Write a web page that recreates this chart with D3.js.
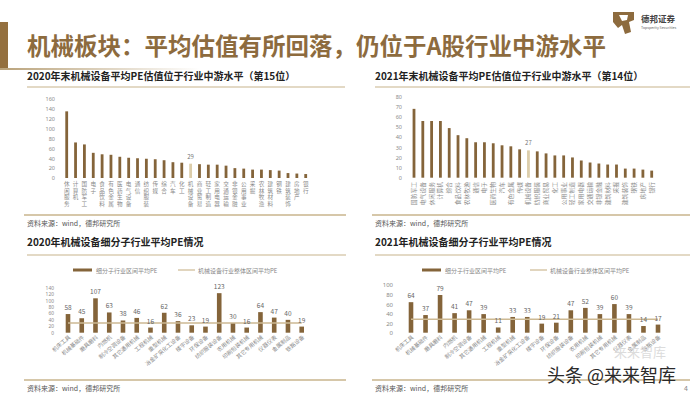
<!DOCTYPE html>
<html><head><meta charset="utf-8">
<script src="https://cdn.jsdelivr.net/npm/d3@7"></script>
<style>
html,body{margin:0;padding:0;background:#fff;}
svg{display:block;font-family:"Noto Sans CJK SC","Noto Sans",sans-serif;}
</style></head><body>
<svg id="c" width="700" height="394"></svg>
<script>
// ---- data ----
const ind2020 = ["休闲服务","计算机","国防军工","电子","食品饮料","有色金属","医药生物","电气设备","通信","纺织服装","传媒","综合","汽车","化工","机械设备","商业贸易","轻工制造","家用电器","交通运输","非银金融","公用事业","采掘","农林牧渔","建筑材料","钢铁","建筑装饰","房地产","银行"];
const pe2020 = [135,72,68,51,48,47,43,41,40,39,38,36,32,31,29,28,27,27,25,20,19,17,17,16,15,10,9,8];
const ind2021 = ["国防军工","电气设备","休闲服务","计算机","综合","食品饮料","农林牧渔","通信","电子","医药生物","汽车","有色金属","传媒","机械设备","纺织服装","商业贸易","化工","公用事业","轻工制造","家用电器","交通运输","非银金融","建筑材料","采掘","建筑装饰","钢铁","房地产","银行"];
const pe2021 = [68,56,56,56,49,42,39,35,35,34,32,31,28,27,26,24,22,22,20,17,15,14,13,13,9,9,8,7];
const sub2020 = ["机床工具","机械基础件","磨具磨料","内燃机","制冷空调设备","其它通用机械","工程机械","重型机械","冶金矿采化工设备","楼宇设备","环保设备","纺织服装设备","农用机械","印刷包装机械","其它专用机械","仪器仪表","金属制品","铁路设备"];
const subPe2020 = [58,45,107,63,38,46,16,62,36,23,19,123,30,16,64,47,40,19];
const avg2020 = 30;
const sub2021 = ["机床工具","机械基础件","磨具磨料","内燃机","制冷空调设备","其它通用机械","工程机械","重型机械","冶金矿采化工设备","楼宇设备","环保设备","纺织服装设备","农用机械","印刷包装机械","其它专用机械","仪器仪表","金属制品","铁路设备"];
const subPe2021 = [64,37,79,41,47,39,11,33,33,19,21,47,52,39,60,39,14,17];
const avg2021 = 28;
const ticksTL = [0,20,40,60,80,100,120,140,160];
const ticksTR = [0,10,20,30,40,50,60,70,80];
const ticksBL = [0,20,40,60,80,100,120,140];
const ticksBR = [0,20,40,60,80,100];

const BAR = "#84643a", HL = "#dccdaa", AVG = "#cdb993", TAN = "#c8b48c", TXT = "#8a8a8a";
const svg = d3.select("#c");

// ---- header ----
svg.append("rect").attr("x",0).attr("y",22).attr("width",8).attr("height",46).attr("fill","#94703f");
const g0 = svg.append("defs").append("linearGradient").attr("id","fade");
g0.append("stop").attr("offset","0%").attr("stop-color","#b9a27a");
g0.append("stop").attr("offset","100%").attr("stop-color","#ffffff");
svg.append("rect").attr("x",0).attr("y",68).attr("width",200).attr("height",2).attr("fill","url(#fade)");
svg.append("text").attr("x",27).attr("y",55).attr("font-size",23.5).attr("font-weight",700)
  .attr("fill","#8d6b3e").text("机械板块：平均估值有所回落，仍位于A股行业中游水平");
// logo
const lg = svg.append("g").attr("transform","translate(613,12)");
lg.append("path").attr("d","M0,0 L21,0 L21,8 L16,10 L18,20 L12,22 L9,13 L5,16 L0,10 Z").attr("fill","#8d6b3e");
lg.append("path").attr("d","M6,3 L15,3 L14,8 L9,9 Z").attr("fill","#fff");
svg.append("text").attr("x",641).attr("y",22).attr("font-size",8.5).attr("font-weight",700).attr("fill","#444").text("德邦证券");
svg.append("text").attr("x",641).attr("y",29).attr("font-size",3.6).attr("fill","#666").text("Topsperity Securities");

function sectionHead(x, x2, title, yTitle, yLine){
  svg.append("text").attr("x",x).attr("y",yTitle).attr("font-size",10).attr("font-weight",700).attr("fill","#222").text(title);
  svg.append("line").attr("x1",x).attr("x2",x2).attr("y1",yLine).attr("y2",yLine).attr("stroke",TAN).attr("stroke-width",1.2);
}
function sourceFoot(x, x2, yLine, yText){
  svg.append("line").attr("x1",x-3).attr("x2",x2).attr("y1",yLine).attr("y2",yLine).attr("stroke",TAN).attr("stroke-width",1.5);
  svg.append("text").attr("x",x).attr("y",yText).attr("font-size",7).attr("fill","#555").text("资料来源：wind，德邦研究所");
}
function yAxis(y, xr, ticks, fs){
  const ax = svg.append("g").attr("transform",`translate(${xr},0)`)
    .call(d3.axisLeft(y).tickValues(ticks).tickSize(0).tickPadding(0));
  ax.select(".domain").remove();
  ax.selectAll("text").attr("font-size",fs).attr("fill",TXT).attr("font-family","'Noto Sans',sans-serif");
}

// ---- top-left ----
sectionHead(27,345,"2020年末机械设备平均PE估值位于行业中游水平（第15位）",80,87);
{
  const x = d3.scalePoint().domain(ind2020).range([66.7,305.7]);
  const y = d3.scaleLinear().domain([0,160]).range([178,99]);
  yAxis(y,55,ticksTL,5.5);
  svg.append("g").selectAll("rect").data(ind2020).join("rect")
    .attr("x",d=>x(d)-1.4).attr("width",2.8)
    .attr("y",(d,i)=>y(pe2020[i])).attr("height",(d,i)=>y(0)-y(pe2020[i]))
    .attr("fill",d=>d==="机械设备"?HL:BAR);
  const hi = ind2020.indexOf("机械设备");
  svg.append("text").attr("x",x(ind2020[hi])).attr("y",y(pe2020[hi])-5).attr("text-anchor","middle")
    .attr("font-size",6).attr("fill","#777").text(pe2020[hi]);
  svg.append("g").selectAll("text").data(ind2020).join("text")
    .attr("x",d=>x(d)).attr("y",181)
    .style("writing-mode","vertical-rl").style("text-orientation","upright")
    .attr("font-size",5.6).attr("letter-spacing",1).attr("fill","#8a8a8a").text(d=>d);
}
sourceFoot(27,346,215,226);

// ---- top-right ----
sectionHead(375,690,"2021年末机械设备平均PE估值位于行业中游水平（第14位）",80,87);
{
  const x = d3.scalePoint().domain(ind2021).range([414,651.7]);
  const y = d3.scaleLinear().domain([0,80]).range([177.7,96.7]);
  yAxis(y,402,ticksTR,5.5);
  svg.append("g").selectAll("rect").data(ind2021).join("rect")
    .attr("x",d=>x(d)-1.4).attr("width",2.8)
    .attr("y",(d,i)=>y(pe2021[i])).attr("height",(d,i)=>y(0)-y(pe2021[i]))
    .attr("fill",d=>d==="机械设备"?HL:BAR);
  const hi = ind2021.indexOf("机械设备");
  svg.append("text").attr("x",x(ind2021[hi])).attr("y",y(pe2021[hi])-5).attr("text-anchor","middle")
    .attr("font-size",6).attr("fill","#777").text(pe2021[hi]);
  svg.append("g").selectAll("text").data(ind2021).join("text")
    .attr("transform",d=>`translate(${x(d)+2},182) rotate(-90)`).attr("text-anchor","end")
    .attr("font-size",5.8).attr("fill","#8a8a8a").text(d=>d);
}
sourceFoot(375,690,215,226);

// ---- bottom charts ----
function subChart(cfg){
  sectionHead(cfg.x0, cfg.x1, cfg.title, 246, 255);
  svg.append("rect").attr("x",cfg.lx).attr("y",268.5).attr("width",19).attr("height",3).attr("fill",BAR);
  svg.append("text").attr("x",cfg.lx+23).attr("y",272.5).attr("font-size",6).attr("fill","#888").text("细分子行业区间平均PE");
  svg.append("line").attr("x1",cfg.lx2).attr("x2",cfg.lx2+17).attr("y1",270).attr("y2",270).attr("stroke",AVG).attr("stroke-width",1.2);
  svg.append("text").attr("x",cfg.lx2+20).attr("y",272.5).attr("font-size",6).attr("fill","#888").text("机械设备行业整体区间平均PE");
  const x = d3.scalePoint().domain(cfg.cats).range(cfg.xr);
  const y = d3.scaleLinear().domain([0,cfg.max]).range([332.7,cfg.ytop]);
  yAxis(y,cfg.axX,cfg.ticks,cfg.fs);
  svg.append("g").selectAll("rect").data(cfg.cats).join("rect")
    .attr("x",d=>x(d)-2.3).attr("width",4.6)
    .attr("y",(d,i)=>y(cfg.vals[i])).attr("height",(d,i)=>y(0)-y(cfg.vals[i]))
    .attr("fill",BAR);
  svg.append("line").attr("x1",x(cfg.cats[0])).attr("x2",x(cfg.cats[cfg.cats.length-1]))
    .attr("y1",y(cfg.avg)).attr("y2",y(cfg.avg)).attr("stroke",AVG).attr("stroke-width",1.5);
  svg.append("g").selectAll("text").data(cfg.cats).join("text")
    .attr("x",d=>x(d)).attr("y",(d,i)=>y(cfg.vals[i])-4).attr("text-anchor","middle")
    .attr("font-size",6.5).attr("fill","#666").text((d,i)=>cfg.vals[i]);
  svg.append("g").selectAll("text").data(cfg.cats).join("text")
    .attr("transform",d=>`translate(${x(d)+3},338) rotate(-40)`).attr("text-anchor","end")
    .attr("font-size",5.5).attr("fill","#8a8a8a").text(d=>d);
}
subChart({x0:27,x1:346,title:"2020年机械设备细分子行业平均PE情况",lx:73,lx2:178,cats:sub2020,vals:subPe2020,avg:avg2020,max:140,ytop:287.7,xr:[68,301.7],axX:54,ticks:ticksBL,fs:4.9});
subChart({x0:375,x1:690,title:"2021年机械设备细分子行业平均PE情况",lx:422,lx2:530,cats:sub2021,vals:subPe2021,avg:avg2021,max:100,ytop:285,xr:[411,658],axX:393,ticks:ticksBR,fs:6});
sourceFoot(27,346,380,391);
sourceFoot(375,690,380,391);

// watermark
svg.append("text").attr("x",614).attr("y",357).attr("font-size",13).attr("fill","#dcdcdc").text("来来智库");
svg.append("text").attr("x",547).attr("y",382).attr("font-size",18).attr("fill","#2a2a2a").text("头条 @来来智库");
svg.append("text").attr("x",684).attr("y",391).attr("font-size",7).attr("fill","#888").text("4");
</script>
</body></html>
